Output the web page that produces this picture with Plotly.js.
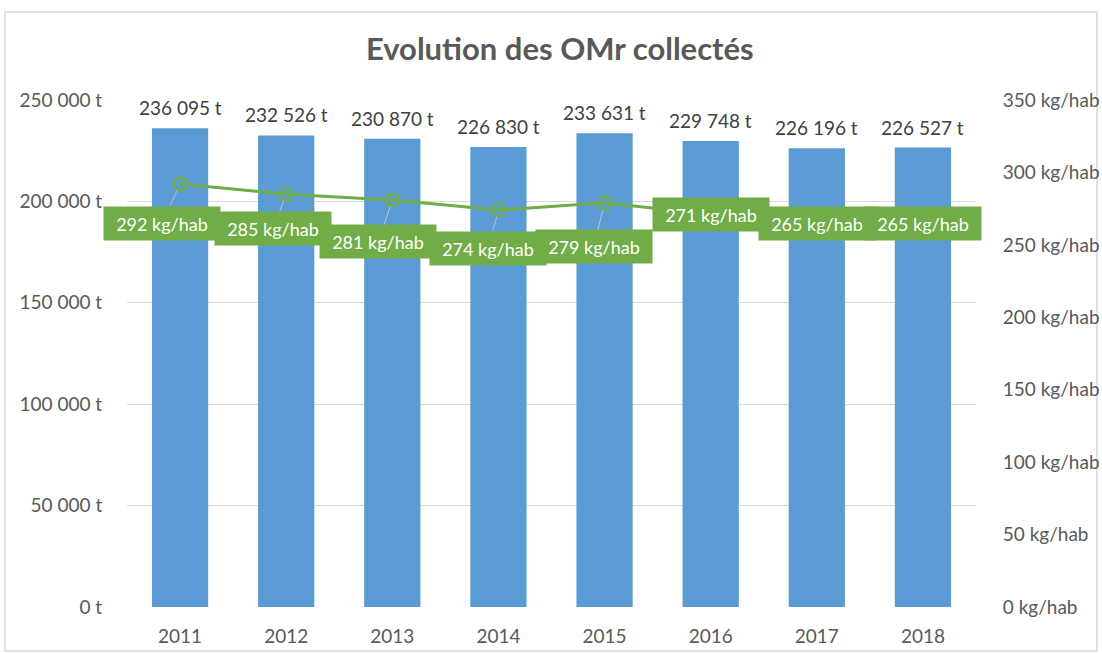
<!DOCTYPE html>
<html>
<head>
<meta charset="utf-8">
<script src="https://cdn.plot.ly/plotly-3.0.1.min.js"></script>
<style>html,body{margin:0;padding:0;background:#fff;}#chart{width:1102px;height:654px;}</style>
</head>
<body>
<div id="chart"></div>
<script>
const years = ['2011','2012','2013','2014','2015','2016','2017','2018'];
const tonnes = [236095, 232526, 230870, 226830, 233631, 229748, 226196, 226527];
const kgHab = [292, 285, 281, 274, 279, 271, 265, 265];
const leftTicks = [0, 50000, 100000, 150000, 200000, 250000];
const rightTicks = [0, 50, 100, 150, 200, 250, 300, 350];

// label offsets (px) for the green data labels
const labelDx = [-18, -13, -14, -10, -11, 0, 0, 0];
const labelDy = [39, 34, 42, 38, 44, 0, 0, 0];

const FONT = 'Lato, "Liberation Sans", sans-serif';
const BLUE = '#5B9BD5';
const GREEN = '#70AD47';

function fmtSpace(v) {
  return String(v).replace(/\B(?=(\d{3})+(?!\d))/g, '\u00a0');
}

const bars = {
  type: 'bar', x: years, y: tonnes, marker: {color: BLUE},
  hoverinfo: 'skip', yaxis: 'y'
};
const line = {
  type: 'scatter', mode: 'lines+markers', x: years, y: kgHab, yaxis: 'y2',
  line: {color: GREEN, width: 3},
  marker: {symbol: 'circle-open', size: 13, color: GREEN, line: {width: 2.5, color: GREEN}},
  hoverinfo: 'skip'
};

const annotations = [];
years.forEach((yr, i) => {
  annotations.push({
    x: i, y: tonnes[i], xref: 'x', yref: 'y', text: fmtSpace(tonnes[i]) + '\u00a0t',
    showarrow: false, yanchor: 'bottom', yshift: 7,
    font: {family: FONT, size: 19, color: '#404040'}
  });
});
years.forEach((yr, i) => {
  const moved = labelDx[i] !== 0 || labelDy[i] !== 0;
  annotations.push({
    x: i, y: kgHab[i], xref: 'x', yref: 'y2', text: kgHab[i] + '\u00a0kg/hab',
    showarrow: moved, arrowhead: 0, arrowwidth: 1, arrowcolor: '#BFBFBF',
    ax: labelDx[i], ay: labelDy[i], standoff: 7,
    bgcolor: GREEN, borderpad: 5, width: 106, height: 23,
    font: {family: FONT, size: 18, color: '#FFFFFF'}
  });
});

const layout = {
  width: 1102, height: 654,
  margin: {l: 127, r: 126, t: 100, b: 47},
  paper_bgcolor: '#FFFFFF', plot_bgcolor: '#FFFFFF',
  showlegend: false,
  bargap: 0.47,
  title: {text: '<b>Evolution des OMr collectés</b>', x: 0.508, xanchor: 'center', y: 0.925, yanchor: 'middle',
          font: {family: FONT, size: 31, color: '#595959'}},
  xaxis: {type: 'category', range: [-0.5, 7.5], showgrid: false, zeroline: false, showline: false,
          ticks: 'outside', ticklen: 12, tickcolor: 'rgba(0,0,0,0)',
          tickfont: {family: FONT, size: 19, color: '#595959'}},
  yaxis: {range: [0, 250000], tickvals: leftTicks, ticktext: leftTicks.map(v => fmtSpace(v) + '\u00a0t'),
          showgrid: true, gridcolor: '#D9D9D9', gridwidth: 1, zeroline: false, showline: false,
          ticks: 'outside', ticklen: 20, tickcolor: 'rgba(0,0,0,0)',
          tickfont: {family: FONT, size: 19, color: '#595959'}},
  yaxis2: {range: [0, 350], overlaying: 'y', side: 'right', tickvals: rightTicks,
           ticktext: rightTicks.map(v => v + '\u00a0kg/hab'),
           showgrid: false, zeroline: false, showline: false,
           ticks: 'outside', ticklen: 22, tickcolor: 'rgba(0,0,0,0)',
           tickfont: {family: FONT, size: 19, color: '#595959'}},
  annotations: annotations,
  shapes: [{type: 'rect', xref: 'paper', yref: 'paper',
            x0: (5 - 127) / 849, x1: (1097 - 127) / 849,
            y0: (607 - 651) / 507, y1: (607 - 12) / 507,
            line: {color: '#D9D9D9', width: 1.5}, fillcolor: 'rgba(0,0,0,0)', layer: 'below'}]
};

Plotly.newPlot('chart', [bars, line], layout, {displayModeBar: false, staticPlot: true});
</script>
</body>
</html>
